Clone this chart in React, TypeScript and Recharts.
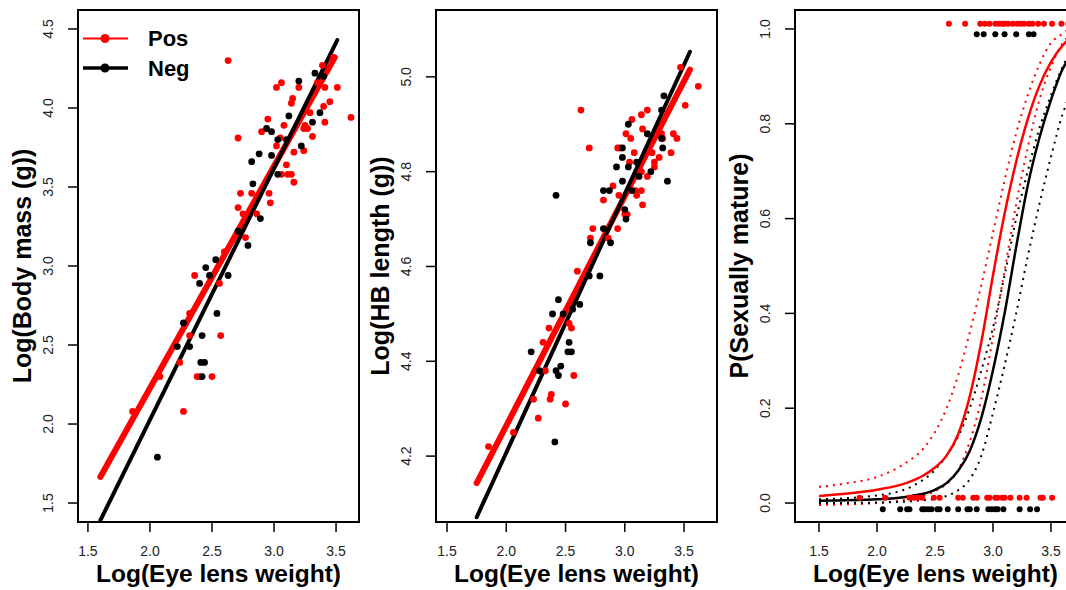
import { ComposedChart, Scatter, Line, XAxis, YAxis, ReferenceArea } from "recharts";

const FONT = "'Liberation Sans', Arial, Helvetica, sans-serif";
const RED = "#ff0000";
const BLACK = "#000000";

const X_TICKS = [1.5, 2, 2.5, 3, 3.5];
const MASS_TICKS = [1.5, 2, 2.5, 3, 3.5, 4, 4.5];
const LENGTH_TICKS = [4.2, 4.4, 4.6, 4.8, 5.0];
const PROB_TICKS = [0, 0.2, 0.4, 0.6, 0.8, 1.0];

// panel 1: log eye lens weight vs log body mass
const posMass: [number, number][] = [
  [2.63, 4.3], [3.02, 4.13], [3.06, 4.16], [3.2, 4.13], [3.51, 4.13], [3.15, 4.06], [3.14, 4.03],
  [3.39, 4.27], [3.41, 4.13], [3.45, 4.04], [3.62, 3.94], [3.41, 3.91], [2.95, 3.93], [2.71, 3.81],
  [2.9, 3.85], [3.05, 3.81], [3.08, 3.89], [3.02, 3.76], [3.24, 3.87], [3.25, 3.89], [3.31, 3.82],
  [3.24, 3.73], [3.16, 3.72], [3.1, 3.64], [3.14, 3.58], [3.16, 3.53], [3.06, 3.58], [3.11, 3.58],
  [2.73, 3.46], [2.82, 3.46], [2.96, 3.46], [2.97, 3.4], [2.71, 3.37], [2.75, 3.33], [2.86, 3.33],
  [2.77, 3.18], [2.6, 3.09], [2.36, 2.94], [2.56, 2.89], [2.32, 2.7], [2.32, 2.56], [2.57, 2.56],
  [2.24, 2.39], [2.38, 2.3], [2.4, 2.3], [2.5, 2.3], [2.27, 2.08], [1.86, 2.08], [2.08, 2.3],
  [3.35, 4.16], [3.4, 4.01], [3.29, 3.97], [3.27, 3.87], [3.48, 4.32],
];
const negMass: [number, number][] = [
  [3.2, 4.17], [3.33, 4.22], [3.12, 3.95], [3.31, 3.91], [3.37, 3.97], [2.94, 3.87], [2.98, 3.85],
  [3.03, 3.8], [3.1, 3.8], [3.22, 3.76], [2.88, 3.71], [2.98, 3.7], [2.82, 3.66], [3.03, 3.58],
  [2.83, 3.52], [2.89, 3.3], [2.79, 3.13], [2.71, 3.22], [2.45, 2.99], [2.53, 3.04], [2.4, 2.89],
  [2.63, 2.94], [2.48, 2.94], [2.27, 2.64], [2.54, 2.7], [2.42, 2.56], [2.32, 2.49], [2.22, 2.49],
  [2.41, 2.39], [2.44, 2.39], [2.42, 2.3], [2.06, 1.79], [3.4, 4.2],
];
const posMassFit: [number, number][] = [[1.6, 1.665], [3.49, 4.32]];
const negMassFit: [number, number][] = [[1.6, 1.39], [3.51, 4.43]];

// panel 2: log eye lens weight vs log HB length
const posLength: [number, number][] = [
  [3.47, 5.02], [3.62, 4.98], [3.51, 4.94], [2.63, 4.93], [3.06, 4.91], [3.14, 4.92], [3.19, 4.93],
  [3.01, 4.88], [3.15, 4.89], [3.05, 4.87], [3.31, 4.88], [3.32, 4.87], [3.41, 4.88], [3.44, 4.87],
  [2.7, 4.85], [2.94, 4.85], [2.96, 4.85], [3.39, 4.84], [3.08, 4.84], [3.23, 4.84], [3.25, 4.82],
  [3.29, 4.83], [3.04, 4.82], [3.14, 4.8], [3.19, 4.79], [3.25, 4.81], [2.9, 4.77], [3.09, 4.76],
  [3.14, 4.76], [3.1, 4.75], [2.95, 4.75], [2.82, 4.74], [3.15, 4.73], [3.0, 4.71], [3.02, 4.71],
  [2.94, 4.68], [2.73, 4.68], [2.71, 4.66], [2.86, 4.66], [2.6, 4.59], [2.36, 4.47], [2.31, 4.44],
  [2.53, 4.48], [2.55, 4.47], [2.57, 4.37], [2.38, 4.33], [2.37, 4.32], [2.23, 4.32], [2.5, 4.31],
  [2.27, 4.28], [1.85, 4.22], [2.06, 4.25], [2.33, 4.38],
];
const negLength: [number, number][] = [
  [3.33, 4.96], [3.31, 4.93], [3.03, 4.9], [3.19, 4.88], [3.31, 4.87], [2.98, 4.85], [3.32, 4.85],
  [2.98, 4.83], [3.1, 4.82], [3.03, 4.81], [2.93, 4.81], [3.12, 4.79], [3.22, 4.8], [3.36, 4.78],
  [2.98, 4.78], [2.82, 4.76], [2.87, 4.76], [3.06, 4.76], [3.0, 4.72], [3.01, 4.7], [2.82, 4.68],
  [2.71, 4.65], [2.88, 4.65], [2.79, 4.58], [2.7, 4.58], [2.42, 4.75], [2.44, 4.53], [2.62, 4.52],
  [2.56, 4.51], [2.39, 4.5], [2.48, 4.5], [2.53, 4.44], [2.21, 4.42], [2.52, 4.42], [2.55, 4.42],
  [2.46, 4.39], [2.42, 4.38], [2.44, 4.37], [2.41, 4.23], [2.28, 4.38],
];
const posLengthFit: [number, number][] = [[1.75, 4.143], [3.55, 5.015]];
const negLengthFit: [number, number][] = [[1.75, 4.071], [3.55, 5.053]];

// panel 3: maturity (1 = mature, 0 = immature)
const posMature = [2.62, 2.76, 2.89, 2.93, 2.97, 3.02, 3.05, 3.08, 3.1, 3.13, 3.17, 3.21, 3.24, 3.27, 3.31, 3.34, 3.39, 3.44, 3.51, 3.59, 3.65];
const negMature = [2.86, 2.92, 3.02, 3.1, 3.2, 3.31, 3.35];
const posImmature = [1.85, 2.07, 2.28, 2.32, 2.35, 2.39, 2.49, 2.54, 2.7, 2.74, 2.83, 2.86, 2.95, 2.97, 3.02, 3.04, 3.08, 3.1, 3.15, 3.23, 3.29, 3.41, 3.43, 3.51];
const negImmature = [2.05, 2.2, 2.26, 2.28, 2.39, 2.41, 2.44, 2.47, 2.52, 2.54, 2.61, 2.7, 2.78, 2.8, 2.86, 2.96, 2.99, 3.02, 3.04, 3.09, 3.23, 3.32, 3.38];

const posProb: [number, number][] = [
  [1.5, 0.015], [1.75, 0.02], [2.0, 0.028], [2.25, 0.042], [2.4, 0.058], [2.5, 0.075], [2.6, 0.1],
  [2.7, 0.145], [2.8, 0.225], [2.9, 0.34], [3.0, 0.48], [3.1, 0.61], [3.2, 0.72], [3.3, 0.81],
  [3.4, 0.88], [3.5, 0.93], [3.6, 0.965], [3.66, 0.98],
];
const negProb: [number, number][] = [
  [1.5, 0.005], [2.0, 0.008], [2.3, 0.015], [2.5, 0.028], [2.6, 0.042], [2.7, 0.068], [2.8, 0.11],
  [2.9, 0.18], [3.0, 0.28], [3.1, 0.4], [3.2, 0.54], [3.3, 0.67], [3.4, 0.77], [3.5, 0.85],
  [3.6, 0.915], [3.66, 0.94],
];
const posUpper: [number, number][] = [
  [1.5, 0.034], [1.75, 0.042], [2.0, 0.055], [2.25, 0.085], [2.4, 0.115], [2.5, 0.15], [2.6, 0.2],
  [2.7, 0.27], [2.8, 0.36], [2.9, 0.46], [3.0, 0.57], [3.1, 0.68], [3.2, 0.78], [3.3, 0.86],
  [3.4, 0.925], [3.5, 0.97], [3.6, 0.99], [3.66, 1.0],
];
const posLower: [number, number][] = [
  [1.5, -0.004], [2.0, 0.0], [2.3, 0.01], [2.5, 0.025], [2.6, 0.04], [2.7, 0.07], [2.8, 0.13],
  [2.9, 0.22], [3.0, 0.35], [3.1, 0.49], [3.2, 0.63], [3.3, 0.75], [3.4, 0.85], [3.5, 0.92],
  [3.6, 0.97], [3.66, 0.985],
];
const negUpper: [number, number][] = [
  [1.5, 0.008], [2.0, 0.016], [2.3, 0.035], [2.5, 0.07], [2.6, 0.1], [2.7, 0.14], [2.8, 0.2],
  [2.9, 0.28], [3.0, 0.37], [3.1, 0.48], [3.2, 0.6], [3.3, 0.7], [3.4, 0.79], [3.5, 0.86],
  [3.6, 0.92], [3.66, 0.95],
];
const negLower: [number, number][] = [
  [1.5, 0.0], [2.0, 0.001], [2.4, 0.006], [2.6, 0.015], [2.7, 0.027], [2.8, 0.05], [2.9, 0.1],
  [3.0, 0.19], [3.1, 0.29], [3.2, 0.4], [3.3, 0.52], [3.4, 0.63], [3.5, 0.73], [3.6, 0.82], [3.66, 0.86],
];

const pts = (pairs: [number, number][]) => pairs.map(([x, y]) => ({ x, y }));
const level = (xs: number[], y: number) => xs.map((x) => ({ x, y }));

const XTick = (props: any) => {
  const { x, y, payload } = props;
  return (
    <text x={x} y={y + 22} textAnchor="middle" fontSize={14} fill="#222" fontFamily={FONT}>
      {Number(payload.value).toFixed(1)}
    </text>
  );
};

const YTick = (props: any) => {
  const { x, y, payload } = props;
  const cx = x - 18;
  return (
    <text x={cx} y={y} dy="0.35em" transform={`rotate(-90 ${cx} ${y})`} textAnchor="middle" fontSize={14} fill="#222" fontFamily={FONT}>
      {Number(payload.value).toFixed(1)}
    </text>
  );
};

const dot = (color: string, r: number) => (p: any) => <circle cx={p.cx} cy={p.cy} r={r} fill={color} />;

function Panel({ left, xDomain, yDomain, yTicks, yTitle, children }: any) {
  return (
    <div style={{ position: "absolute", left, top: 0 }}>
      <ComposedChart width={360} height={590} margin={{ top: 10, right: 1, bottom: 0, left: 0 }}>
        <XAxis
          type="number"
          dataKey="x"
          domain={xDomain}
          allowDataOverflow
          ticks={X_TICKS}
          interval={0}
          tickSize={10}
          axisLine={false}
          tickLine={{ stroke: "#000", strokeWidth: 1.5 }}
          tick={(p: any) => <XTick {...p} />}
          height={68}
          label={{
            content: ({ viewBox }: any) => (
              <text x={viewBox.x + viewBox.width / 2} y={viewBox.y + 60} textAnchor="middle" fontSize={24.5} fontWeight="bold" fontFamily={FONT} fill="#000">
                Log(Eye lens weight)
              </text>
            ),
          }}
        />
        <YAxis
          type="number"
          dataKey="y"
          domain={yDomain}
          allowDataOverflow
          ticks={yTicks}
          interval={0}
          tickSize={10}
          axisLine={false}
          tickLine={{ stroke: "#000", strokeWidth: 1.5 }}
          tick={(p: any) => <YTick {...p} />}
          width={78}
          label={{
            content: ({ viewBox }: any) => {
              const cx = viewBox.x + viewBox.width - 56;
              const cy = viewBox.y + viewBox.height / 2;
              return (
                <text x={cx} y={cy} dy="0.35em" transform={`rotate(-90 ${cx} ${cy})`} textAnchor="middle" fontSize={25} fontWeight="bold" fontFamily={FONT} fill="#000">
                  {yTitle}
                </text>
              );
            },
          }}
        />
        {children}
        <ReferenceArea x1={xDomain[0]} x2={xDomain[1]} y1={yDomain[0]} y2={yDomain[1]} fill="none" fillOpacity={0} stroke="#000" strokeWidth={2} />
      </ComposedChart>
    </div>
  );
}

function fitLine(data: [number, number][], color: string, width: number) {
  return (
    <Line data={pts(data)} dataKey="y" type="linear" stroke={color} strokeWidth={width} strokeLinecap="round" dot={false} activeDot={false} isAnimationActive={false} />
  );
}

function curve(data: [number, number][], color: string, dotted: boolean) {
  return (
    <Line
      data={pts(data)}
      dataKey="y"
      type="monotone"
      stroke={color}
      strokeWidth={dotted ? 2 : 2.5}
      strokeDasharray={dotted ? "2 5" : undefined}
      dot={false}
      activeDot={false}
      isAnimationActive={false}
    />
  );
}

function LegendBox() {
  return (
    <svg width={200} height={90} style={{ position: "absolute", left: 0, top: 0, pointerEvents: "none" }}>
      <line x1={83} x2={128} y1={38.5} y2={38.5} stroke={RED} strokeWidth={2} />
      <circle cx={105} cy={38.5} r={4.5} fill={RED} />
      <text x={148} y={46} fontSize={22} fontWeight="bold" fontFamily={FONT} fill="#000">Pos</text>
      <line x1={83} x2={128} y1={68} y2={68} stroke={BLACK} strokeWidth={3.5} />
      <circle cx={105} cy={68} r={4.5} fill={BLACK} />
      <text x={148} y={76} fontSize={22} fontWeight="bold" fontFamily={FONT} fill="#000">Neg</text>
    </svg>
  );
}

export default function App() {
  return (
    <div style={{ position: "absolute", left: 0, top: 0, width: 1066, height: 590, overflow: "hidden", background: "#fff" }}>
      <Panel left={0} xDomain={[1.42, 3.685]} yDomain={[1.38, 4.62]} yTicks={MASS_TICKS} yTitle="Log(Body mass (g))">
        <Scatter data={pts(posMass)} dataKey="y" shape={dot(RED, 3.4)} isAnimationActive={false} />
        <Scatter data={pts(negMass)} dataKey="y" shape={dot(BLACK, 3.4)} isAnimationActive={false} />
        {fitLine(posMassFit, RED, 6)}
        {fitLine(negMassFit, BLACK, 4)}
      </Panel>
      <LegendBox />
      <Panel left={358} xDomain={[1.407, 3.778]} yDomain={[4.061, 5.141]} yTicks={LENGTH_TICKS} yTitle="Log(HB length (g))">
        <Scatter data={pts(posLength)} dataKey="y" shape={dot(RED, 3.4)} isAnimationActive={false} />
        <Scatter data={pts(negLength)} dataKey="y" shape={dot(BLACK, 3.4)} isAnimationActive={false} />
        {fitLine(posLengthFit, RED, 6)}
        {fitLine(negLengthFit, BLACK, 4)}
      </Panel>
      <Panel left={717} xDomain={[1.293, 3.716]} yDomain={[-0.04, 1.04]} yTicks={PROB_TICKS} yTitle="P(Sexually mature)">
        <Scatter data={level(posMature, 1.011)} dataKey="y" shape={dot(RED, 3)} isAnimationActive={false} />
        <Scatter data={level(negMature, 0.989)} dataKey="y" shape={dot(BLACK, 3)} isAnimationActive={false} />
        <Scatter data={level(posImmature, 0.011)} dataKey="y" shape={dot(RED, 3)} isAnimationActive={false} />
        <Scatter data={level(negImmature, -0.013)} dataKey="y" shape={dot(BLACK, 3)} isAnimationActive={false} />
        {curve(posUpper, RED, true)}
        {curve(posLower, RED, true)}
        {curve(negUpper, BLACK, true)}
        {curve(negLower, BLACK, true)}
        {curve(posProb, RED, false)}
        {curve(negProb, BLACK, false)}
      </Panel>
    </div>
  );
}
